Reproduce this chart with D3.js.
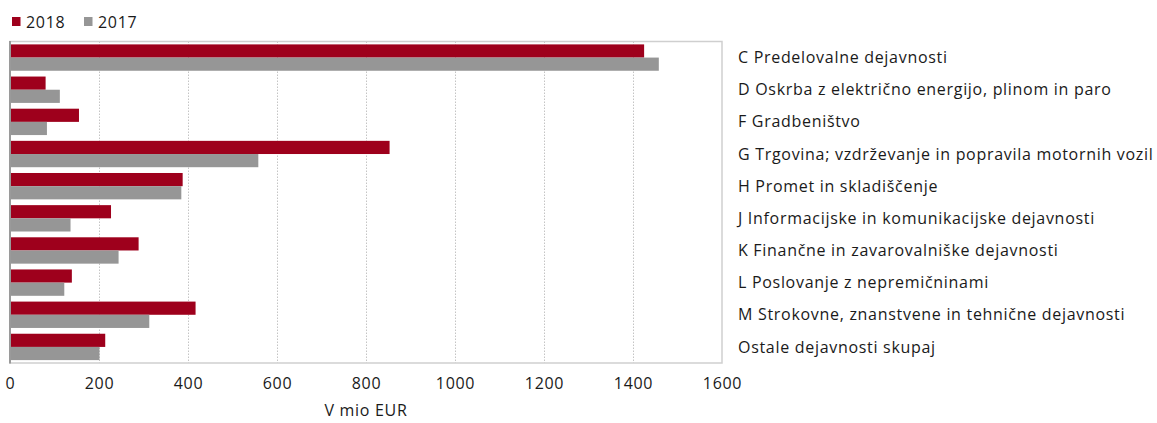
<!DOCTYPE html>
<html><head><meta charset="utf-8">
<script src="https://cdn.jsdelivr.net/npm/d3@7"></script>
<style>body{margin:0;background:#fff}svg{display:block}text{font-family:"Open Sans",sans-serif;fill:#1a1a1a;letter-spacing:0.7px}</style>
</head><body><svg id="c" width="1157" height="423"></svg>
<script>
const categories = ["C Predelovalne dejavnosti","D Oskrba z električno energijo, plinom in paro","F Gradbeništvo","G Trgovina; vzdrževanje in popravila motornih vozil","H Promet in skladiščenje","J Informacijske in komunikacijske dejavnosti","K Finančne in zavarovalniške dejavnosti","L Poslovanje z nepremičninami","M Strokovne, znanstvene in tehnične dejavnosti","Ostale dejavnosti skupaj"];
const values2018 = [1425, 80, 155, 853, 388, 227, 289, 139, 417, 214];
const values2017 = [1458, 112, 83, 558, 385, 136, 244, 122, 313, 201];
const seriesNames = ["2018","2017"];
const tickValues = [0,200,400,600,800,1000,1200,1400,1600];
const axisTitle = "V mio EUR";
const colors = ["#9e001c","#969696"];

const svg = d3.select("#c");
const L = 10, R = 722, T = 41.5, B = 363;
const x = d3.scaleLinear().domain([0,1600]).range([L,R]);
const y = d3.scaleBand().domain(categories).range([T,B]).paddingInner(0.18).paddingOuter(0.09);
const sub = d3.scaleBand().domain(seriesNames).range([0,y.bandwidth()]);

// grid
svg.append("g").selectAll("line").data(tickValues.slice(1,-1)).join("line")
  .attr("x1",d=>x(d)+0.5).attr("x2",d=>x(d)+0.5).attr("y1",T).attr("y2",B)
  .attr("stroke","#c4c4c4").attr("stroke-dasharray","1.5,1.5");
// border
svg.append("rect").attr("x",L).attr("y",T).attr("width",R-L).attr("height",B-T)
  .attr("fill","none").attr("stroke","#cfcfcf").attr("stroke-width",1.5);

const data = categories.map((c,i)=>({c, v:[values2018[i], values2017[i]]}));
const g = svg.append("g").selectAll("g").data(data).join("g").attr("transform",d=>`translate(0,${y(d.c)})`);
g.selectAll("rect").data(d=>d.v.map((v,i)=>({v,s:seriesNames[i],i}))).join("rect")
  .attr("x",x(0)).attr("y",d=>sub(d.s)).attr("height",sub.bandwidth())
  .attr("width",d=>x(d.v)-x(0)).attr("fill",d=>colors[d.i]);

// left axis line
svg.append("line").attr("x1",L).attr("x2",L).attr("y1",T-0.5).attr("y2",B+0.5).attr("stroke","#9a9a9a").attr("stroke-width",2);

// category labels
svg.append("g").selectAll("text").data(categories).join("text")
  .attr("x",738).attr("y",d=>y(d)+y.bandwidth()/2).attr("dy","0.35em")
  .style("font-size","16px").text(d=>d);

// x axis
const ax = svg.append("g").attr("transform",`translate(0,${B})`)
  .call(d3.axisBottom(x).tickValues(tickValues).tickSize(0).tickPadding(15).tickFormat(d3.format("d")));
ax.select(".domain").remove();
ax.selectAll("text").style("font-size","16px").style("font-family","'Open Sans',sans-serif").attr("fill","#1a1a1a");
svg.append("text").attr("x",x(800)).attr("y",416).attr("text-anchor","middle").style("font-size","16px").text(axisTitle);

// legend
const lg = svg.append("g");
const lx = [12,84];
seriesNames.forEach((s,i)=>{
  lg.append("rect").attr("x",lx[i]).attr("y",17).attr("width",8.5).attr("height",9).attr("fill",colors[i]);
  lg.append("text").attr("x",lx[i]+14).attr("y",22).attr("dy","0.35em").style("font-size","16px").text(s);
});
</script></body></html>
